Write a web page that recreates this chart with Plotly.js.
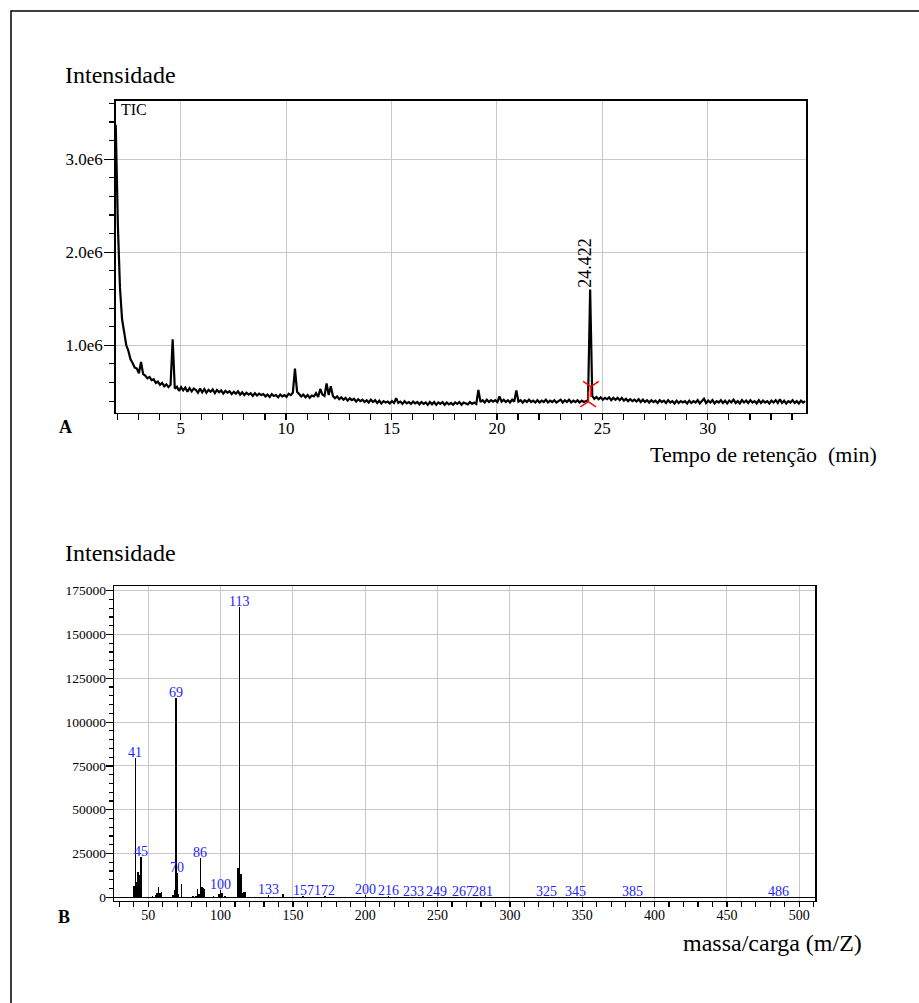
<!DOCTYPE html>
<html>
<head>
<meta charset="utf-8">
<script src="https://cdn.plot.ly/plotly-3.0.1.min.js"></script>
<style>html,body{margin:0;padding:0;background:#fff}</style>
</head>
<body>
<div id="chart" style="width:919px;height:1003px"></div>
<script>
// ---- Chromatogram (TIC), intensity in units of 1e6 counts, one scan every 0.1 min ----
const scanStart = 1.922;
const scanStep = 0.1;
const ticIntensity = [
  3.37, 2.30, 1.62, 1.28, 1.14, 1.00, 0.94, 0.85, 0.81, 0.76,
  0.75, 0.70, 0.82, 0.69, 0.675, 0.645, 0.66, 0.625, 0.635, 0.595,
  0.61, 0.575, 0.595, 0.56, 0.58, 0.55, 0.575, 1.065, 0.535, 0.555,
  0.51, 0.55, 0.515, 0.545, 0.50, 0.54, 0.505, 0.535, 0.52, 0.49,
  0.535, 0.495, 0.53, 0.49, 0.52, 0.50, 0.525, 0.485, 0.52, 0.495,
  0.515, 0.48, 0.51, 0.49, 0.505, 0.475, 0.50, 0.48, 0.505, 0.47,
  0.495, 0.465, 0.49, 0.47, 0.485, 0.455, 0.485, 0.46, 0.48, 0.465,
  0.475, 0.45, 0.47, 0.445, 0.475, 0.455, 0.465, 0.44, 0.47, 0.45,
  0.465, 0.445, 0.48, 0.465, 0.49, 0.75, 0.50, 0.475, 0.45, 0.47,
  0.44, 0.465, 0.435, 0.46, 0.45, 0.485, 0.445, 0.53, 0.47, 0.455,
  0.59, 0.465, 0.56, 0.455, 0.43, 0.45, 0.42, 0.44, 0.415, 0.435,
  0.405, 0.43, 0.41, 0.425, 0.395, 0.42, 0.40, 0.415, 0.39, 0.41,
  0.385, 0.415, 0.39, 0.41, 0.38, 0.405, 0.375, 0.40, 0.385, 0.395,
  0.375, 0.40, 0.38, 0.43, 0.38, 0.395, 0.37, 0.40, 0.375, 0.39,
  0.37, 0.395, 0.375, 0.39, 0.365, 0.39, 0.37, 0.385, 0.36, 0.39,
  0.365, 0.39, 0.36, 0.385, 0.37, 0.39, 0.36, 0.385, 0.365, 0.38,
  0.36, 0.385, 0.37, 0.39, 0.36, 0.385, 0.375, 0.365, 0.39, 0.37,
  0.385, 0.37, 0.52, 0.39, 0.41, 0.385, 0.415, 0.39, 0.41, 0.395,
  0.41, 0.39, 0.45, 0.395, 0.415, 0.39, 0.41, 0.385, 0.415, 0.395,
  0.515, 0.395, 0.41, 0.385, 0.41, 0.39, 0.415, 0.39, 0.405, 0.385,
  0.41, 0.385, 0.405, 0.39, 0.415, 0.385, 0.405, 0.39, 0.41, 0.385,
  0.40, 0.415, 0.385, 0.41, 0.39, 0.415, 0.385, 0.405, 0.39, 0.41,
  0.385, 0.405, 0.39, 0.40, 0.41, 1.60, 0.455, 0.425, 0.445, 0.42,
  0.44, 0.415, 0.435, 0.42, 0.44, 0.41, 0.435, 0.415, 0.435, 0.41,
  0.435, 0.405, 0.425, 0.40, 0.42, 0.40, 0.415, 0.395, 0.42, 0.39,
  0.415, 0.39, 0.41, 0.385, 0.41, 0.39, 0.405, 0.38, 0.41, 0.39,
  0.405, 0.38, 0.41, 0.385, 0.40, 0.375, 0.405, 0.38, 0.40, 0.385,
  0.40, 0.375, 0.405, 0.38, 0.40, 0.385, 0.41, 0.375, 0.40, 0.425,
  0.38, 0.405, 0.385, 0.41, 0.375, 0.40, 0.385, 0.41, 0.38, 0.405,
  0.375, 0.405, 0.385, 0.415, 0.38, 0.40, 0.375, 0.41, 0.385, 0.405,
  0.38, 0.41, 0.385, 0.40, 0.375, 0.41, 0.38, 0.405, 0.385, 0.40,
  0.375, 0.405, 0.385, 0.41, 0.38, 0.42, 0.38, 0.405, 0.375, 0.40,
  0.385, 0.41, 0.38, 0.40, 0.375, 0.405, 0.385, 0.40
];
const ticTime = ticIntensity.map((_, i) => +(scanStart + i * scanStep).toFixed(3));

// integration start / end marks of the labelled peak
const integTime = [24.46, 24.33];
const integIntensity = [0.555, 0.394];
const integSymbol = ['y-down', 'y-up'];

// ---- Mass spectrum of the peak ----
const msMz = [40, 41, 42, 43, 44, 45, 53, 55, 56, 57, 58, 59, 67, 68, 69, 70, 71, 73,
  81, 83, 84, 85, 86, 87, 88, 89, 95, 99, 100, 101, 103, 112, 113, 114, 115, 116, 117,
  133, 143, 157, 172, 200, 216, 233, 249, 267, 281, 325, 345, 385, 486];
const msIntensity = [6500, 79500, 9000, 14500, 12500, 23000, 800, 1500, 2500, 6000, 2500, 3000,
  1500, 4000, 114000, 14000, 2000, 7500,
  700, 1000, 4500, 2000, 22500, 6000, 5500, 4500, 800, 2000, 4000, 2500, 700,
  17000, 166000, 13300, 2500, 3000, 3000,
  1200, 1800, 700, 700, 1200, 500, 400, 400, 400, 400, 300, 300, 300, 300];
const msLabelled = [41, 45, 69, 70, 86, 100, 113, 133, 157, 172, 200, 216, 233, 249, 267, 281, 325, 345, 385, 486];

// ---- page geometry helpers (pixels -> paper fractions) ----
const W = 919, H = 1003;
const px = v => v / W;
const py = v => 1 - v / H;

const serif = 'Liberation Serif';
const gridGrey = '#c8c8c8';

const apexIdx = ticIntensity.indexOf(Math.max(...ticIntensity.slice(100)));

const traces = [
  {
    type: 'scatter', mode: 'lines', x: ticTime, y: ticIntensity,
    xaxis: 'x', yaxis: 'y',
    line: {color: '#000', width: 2.2}, hoverinfo: 'skip'
  },
  {
    type: 'scatter', mode: 'markers', x: integTime, y: integIntensity,
    xaxis: 'x', yaxis: 'y',
    marker: {symbol: integSymbol, size: 13, color: 'red', line: {color: 'red', width: 1.5}},
    hoverinfo: 'skip'
  },
  {
    type: 'bar', x: msMz, y: msIntensity, xaxis: 'x2', yaxis: 'y2',
    width: 1, marker: {color: '#000', line: {width: 0}}, hoverinfo: 'skip'
  }
];

const annotations = [
  {text: 'Intensidade', xref: 'paper', yref: 'paper', x: px(63), y: py(75), xanchor: 'left', yanchor: 'middle',
   showarrow: false, font: {size: 24, family: serif, color: '#000'}},
  {text: 'TIC', xref: 'paper', yref: 'paper', x: px(119), y: py(110), xanchor: 'left', yanchor: 'middle',
   showarrow: false, font: {size: 16, family: serif, color: '#000'}},
  {text: '<b>A</b>', xref: 'paper', yref: 'paper', x: px(65), y: py(427), xanchor: 'center', yanchor: 'middle',
   showarrow: false, font: {size: 18, family: serif, color: '#000'}},
  {text: 'Tempo de retenção  (min)', xref: 'paper', yref: 'paper', x: px(879), y: py(454), xanchor: 'right', yanchor: 'middle',
   showarrow: false, font: {size: 22, family: serif, color: '#000'}},
  {text: ticTime[apexIdx].toFixed(3), xref: 'x', yref: 'y', x: ticTime[apexIdx], y: ticIntensity[apexIdx],
   textangle: -90, xanchor: 'center', yanchor: 'bottom', xshift: -5, yshift: 0,
   showarrow: false, font: {size: 18, family: serif, color: '#000'}},
  {text: 'Intensidade', xref: 'paper', yref: 'paper', x: px(63), y: py(553), xanchor: 'left', yanchor: 'middle',
   showarrow: false, font: {size: 24, family: serif, color: '#000'}},
  {text: '<b>B</b>', xref: 'paper', yref: 'paper', x: px(64), y: py(917), xanchor: 'center', yanchor: 'middle',
   showarrow: false, font: {size: 18, family: serif, color: '#000'}},
  {text: 'massa/carga (m/Z)', xref: 'paper', yref: 'paper', x: px(864), y: py(943), xanchor: 'right', yanchor: 'middle',
   showarrow: false, font: {size: 24, family: serif, color: '#000'}}
];

msLabelled.forEach(m => {
  const v = msIntensity[msMz.indexOf(m)];
  annotations.push({
    text: String(m), xref: 'x2', yref: 'y2', x: m, y: v,
    xanchor: 'center', yanchor: 'bottom', yshift: -4, showarrow: false,
    font: {size: 14, family: serif, color: '#2424ff'}
  });
});

const layout = {
  width: W, height: H,
  margin: {l: 0, r: 0, t: 0, b: 0, pad: 0},
  paper_bgcolor: '#fff', plot_bgcolor: '#fff',
  showlegend: false,
  font: {family: serif, color: '#000'},
  xaxis: {
    domain: [px(115.7), px(806)], anchor: 'y',
    range: [1.92, 34.66], tick0: 0, dtick: 5, ticklabelstandoff: -7,
    ticks: 'outside', ticklen: 6, tickwidth: 1.2, tickcolor: '#000',
    tickfont: {size: 17, family: serif, color: '#000'},
    showgrid: true, gridcolor: gridGrey, gridwidth: 1,
    showline: true, linecolor: '#000', linewidth: 1.5, mirror: true, zeroline: false,
    minor: {dtick: 1, tick0: 0, ticks: 'outside', ticklen: 6, tickwidth: 1.2, tickcolor: '#000', showgrid: false}
  },
  yaxis: {
    domain: [py(412.7), py(100.7)], anchor: 'x',
    range: [0.2753, 3.630], tick0: 0, dtick: 1, tickformat: '.1f', ticksuffix: 'e6', ticklabelstandoff: -2,
    ticks: 'outside', ticklen: 10, tickwidth: 1.2, tickcolor: '#000',
    tickfont: {size: 17, family: serif, color: '#000'},
    showgrid: true, gridcolor: gridGrey, gridwidth: 1,
    showline: true, linecolor: '#000', linewidth: 1.5, mirror: true, zeroline: false,
    minor: {dtick: 0.2, tick0: 0, ticks: 'outside', ticklen: 5, tickwidth: 1.2, tickcolor: '#000', showgrid: false}
  },
  xaxis2: {
    domain: [px(114.3), px(815.3)], anchor: 'y2',
    range: [26.5, 511.1], tick0: 0, dtick: 50, ticklabelstandoff: -4,
    ticks: 'outside', ticklen: 5, tickwidth: 1.2, tickcolor: '#000',
    tickfont: {size: 14, family: serif, color: '#000'},
    showgrid: true, gridcolor: gridGrey, gridwidth: 1,
    showline: true, linecolor: '#000', linewidth: 1.5, mirror: true, zeroline: false,
    minor: {dtick: 10, tick0: 0, ticks: 'outside', ticklen: 5, tickwidth: 1.2, tickcolor: '#000', showgrid: false}
  },
  yaxis2: {
    domain: [py(900.7), py(586)], anchor: 'x2',
    range: [-1940, 177700], tick0: 0, dtick: 25000, tickformat: 'd', ticklabelstandoff: -3,
    ticks: 'outside', ticklen: 7, tickwidth: 1.2, tickcolor: '#000',
    tickfont: {size: 13.5, family: serif, color: '#000'},
    showgrid: true, gridcolor: gridGrey, gridwidth: 1,
    showline: true, linecolor: '#000', linewidth: 1.5, mirror: true,
    zeroline: true, zerolinecolor: '#000', zerolinewidth: 1.5,
    minor: {dtick: 5000, tick0: 0, ticks: 'outside', ticklen: 3.5, tickwidth: 1.2, tickcolor: '#000', showgrid: false}
  },
  bargap: 0,
  annotations: annotations,
  shapes: [
    {type: 'rect', xref: 'paper', yref: 'paper', x0: px(11), x1: 1.02, y0: -0.02, y1: py(11),
     line: {color: '#000', width: 1.5}, fillcolor: 'rgba(0,0,0,0)', layer: 'above'}
  ]
};

Plotly.newPlot('chart', traces, layout, {staticPlot: true, displayModeBar: false});
</script>
</body>
</html>
